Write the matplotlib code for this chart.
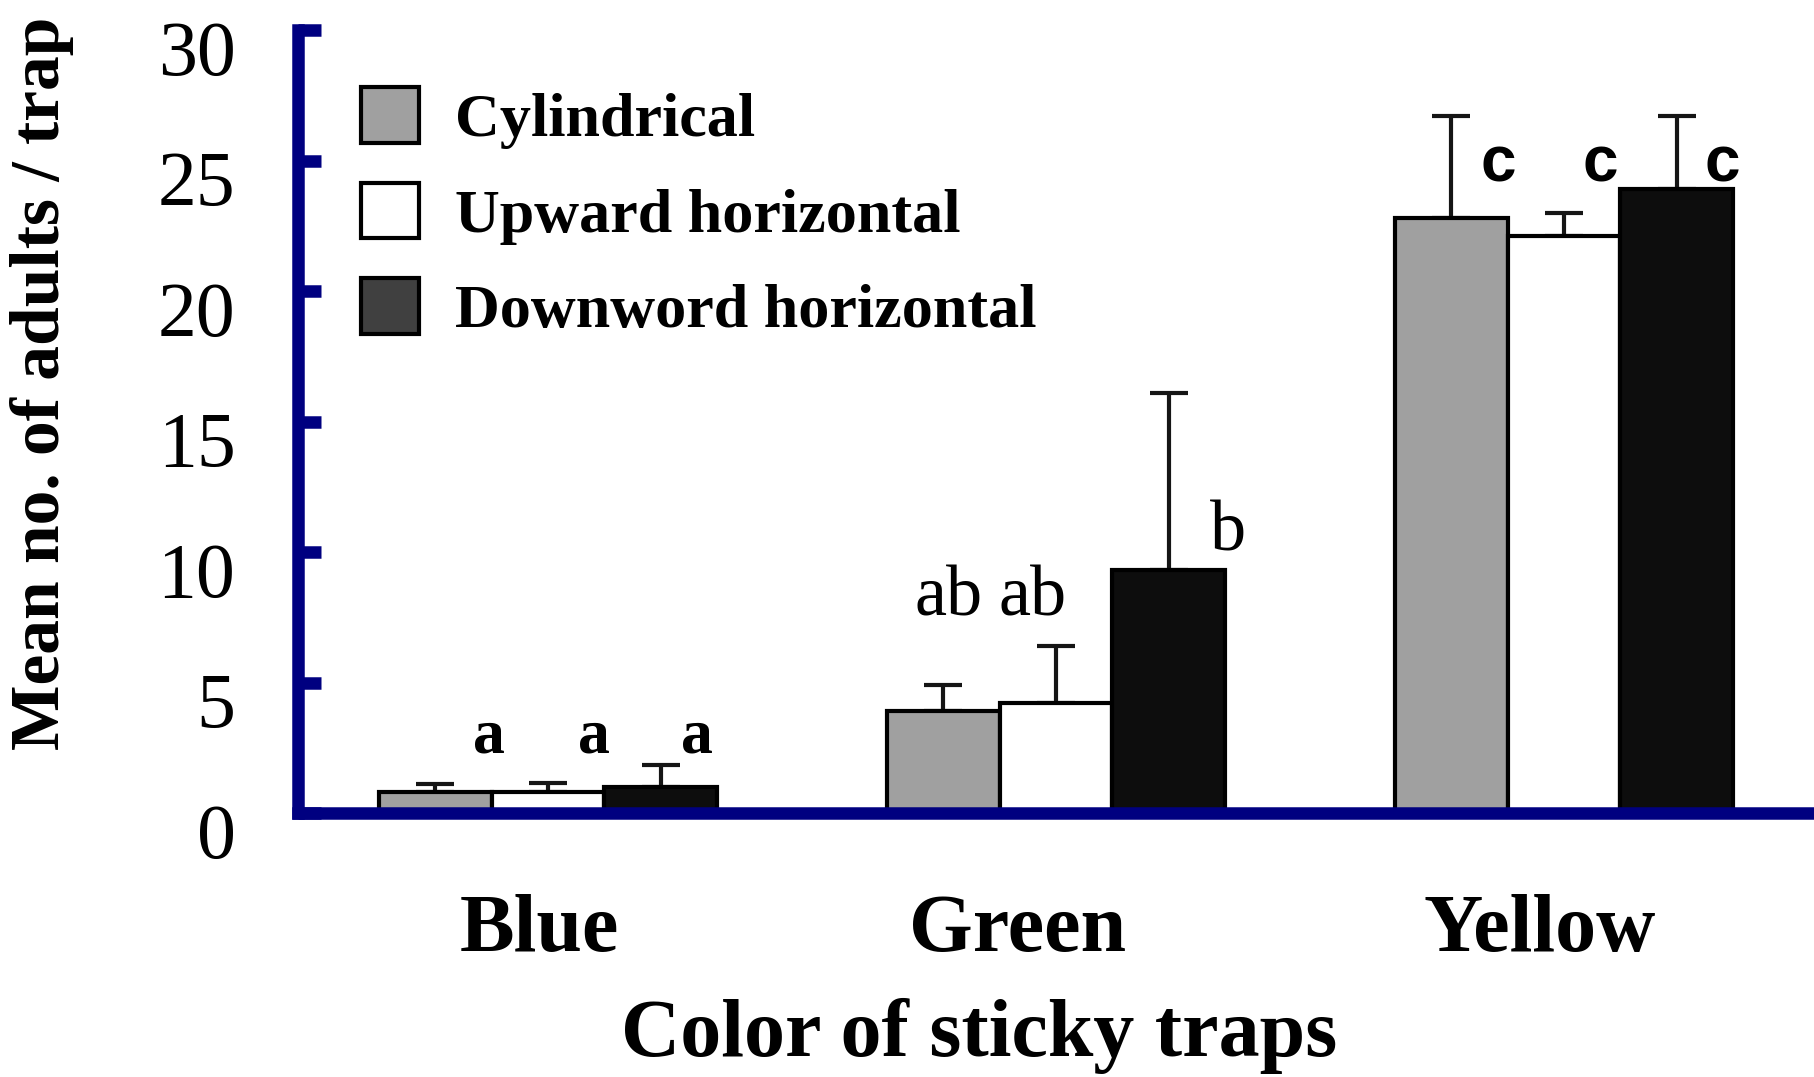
import numpy as np
import matplotlib
matplotlib.use('Agg')
import matplotlib.pyplot as plt
from matplotlib.patches import Patch
from matplotlib.transforms import ScaledTranslation

# Data
categories = ["Blue", "Green", "Yellow"]
series = ["Cylindrical", "Upward horizontal", "Downword horizontal"]
cylindrical = [0.8, 3.9, 22.8]
cylindrical_se = [0.3, 1.0, 3.9]
upward = [0.8, 4.2, 22.1]
upward_se = [0.35, 2.2, 0.9]
downward = [1.0, 9.3, 23.9]
downward_se = [0.85, 6.8, 2.8]
yticks = [0, 5, 10, 15, 20, 25, 30]

# significance letters (rows = categories, cols = series)
letters = [["a", "a", "a"], ["ab", "ab", "b"], ["c", "c", "c"]]

navy = "#000080"
bar_colors = ["#a0a0a0", "#ffffff", "#0d0d0d"]
legend_colors = ["#a0a0a0", "#ffffff", "#404040"]
serif = "Liberation Serif"

fig = plt.figure(figsize=(18.14, 10.77), dpi=100)
ax = fig.add_axes([298 / 1814, 1 - 813 / 1077, 1 - 298 / 1814, (813 - 30) / 1077])

x = np.arange(len(categories))
width = 0.222
offsets = [-width, 0, width]
means = [cylindrical, upward, downward]
errs = [cylindrical_se, upward_se, downward_se]

for i in range(3):
    ax.bar(x + offsets[i], means[i], width, color=bar_colors[i],
           edgecolor="black", linewidth=3, zorder=2)
    ax.errorbar(x + offsets[i], means[i], yerr=[np.zeros(3), errs[i]],
                fmt="none", ecolor="#151515", elinewidth=3,
                capsize=14, capthick=3, zorder=1)

# letter placement (x offset from bar centre, baseline y), per category
letter_dx = [[0.106, 0.09, 0.071], [0.011, -0.047, 0.117], [0.092, 0.071, 0.089]]
letter_y = [[2.33, 2.33, 2.33], [7.56, 7.56, 10.04], [24.2, 24.2, 24.2]]
letter_style = [dict(family=serif, weight="bold", size=46),
                dict(family=serif, weight="normal", size=52),
                dict(family="Liberation Sans", weight="bold", size=46)]
for c in range(3):
    for s in range(3):
        ax.text(x[c] + offsets[s] + letter_dx[c][s], letter_y[c][s], letters[c][s],
                ha="center", va="baseline", **letter_style[c])

ax.set_xlim(-0.492, 2.492)
ax.set_ylim(0, 30)
ax.set_yticks(yticks)
ax.set_yticklabels([str(t) for t in yticks], family=serif, fontsize=56)

ax.set_xticks(x + np.array([-0.016, -0.075, -0.047]))
ax.set_xticklabels(categories, family=serif, weight="bold", fontsize=59)
ax.tick_params(axis="x", length=0, pad=58)
ax.tick_params(axis="y", direction="in", length=16.5, width=9, color=navy, pad=45)

# y tick labels sit a bit below their ticks in the original
shift = ScaledTranslation(0, -12.5 / 72, fig.dpi_scale_trans)
for tick in ax.yaxis.get_major_ticks():
    tick.label1.set_transform(tick.label1.get_transform() + shift)

for side in ["top", "right"]:
    ax.spines[side].set_visible(False)
for side in ["left", "bottom"]:
    ax.spines[side].set_color(navy)
    ax.spines[side].set_linewidth(9)
ax.spines["left"].set_bounds(0, 30)

ax.set_ylabel("Mean no. of adults / trap", family=serif, weight="bold", fontsize=50)
ax.yaxis.set_label_coords(-0.148, 0.549)
ax.set_xlabel("Color of sticky traps", family=serif, weight="bold", fontsize=59)
ax.xaxis.set_label_coords(0.449, -0.236)

handles = [Patch(facecolor=legend_colors[i], edgecolor="black", linewidth=3) for i in range(3)]
ax.legend(handles, series, loc="upper left", bbox_to_anchor=(0.0416, 0.927),
          frameon=False, borderpad=0, borderaxespad=0,
          handlelength=0.93, handleheight=1.0, handletextpad=0.58,
          labelspacing=0.54, prop=dict(family=serif, weight="bold", size=44.7))

fig.savefig("out.png", dpi=100)
